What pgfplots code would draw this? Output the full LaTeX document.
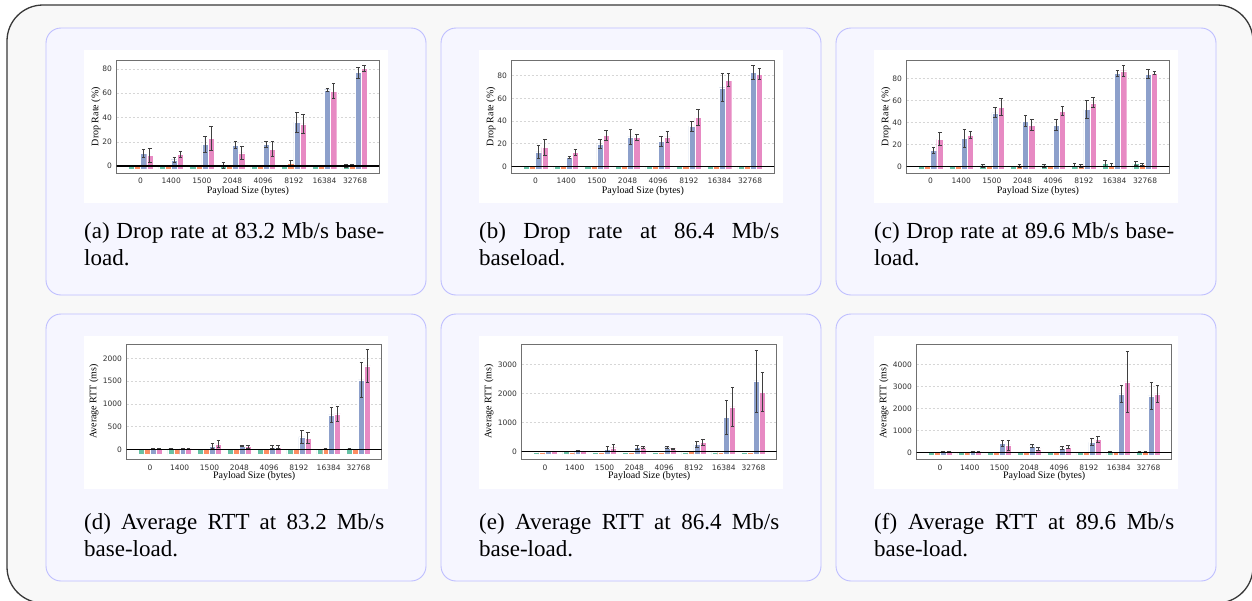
\documentclass[border=0pt]{standalone}
\usepackage{fontspec}
\setmainfont{Liberation Serif}
\setsansfont{DejaVu Sans}
\usepackage{pgfplots}
\usepackage{pgfplotstable}
\pgfplotsset{compat=1.18}

\definecolor{cg}{HTML}{66C2A5}
\definecolor{co}{HTML}{FC8D62}
\definecolor{cb}{HTML}{8DA0CB}
\definecolor{cp}{HTML}{E78AC3}
\definecolor{errc}{HTML}{3F3F3F}
\definecolor{framec}{HTML}{707070}
\definecolor{gridc}{HTML}{D6D6D6}
\definecolor{tickc}{HTML}{333333}
\definecolor{outerbg}{HTML}{F8F8F8}
\definecolor{outerc}{HTML}{383838}
\definecolor{panelbg}{HTML}{F6F6FF}
\definecolor{panelc}{HTML}{BEBEFF}

% columns: x, green mean/err, orange mean/err, blue mean/err, pink mean/err
\pgfplotstableread{
x gm ge om oe bm be pm pe
0 0 0 0 0 10.2 3.2 8.8 5.7
1 0 0 0 0 5.2 2.2 9.4 2.5
2 0 0 0 0 17.7 6.9 22.6 9.9
3 0.3 2.3 0 0 17.1 3.0 10.8 5.5
4 0 0 0 0 17.9 2.2 13.8 6.3
5 0 0 2.0 2.7 36.1 8.3 34.8 7.6
6 0 0 0 0 62.9 1.1 61.8 6.2
7 0.4 1.2 0.5 1.0 77.0 4.6 80.6 2.6
}\tabA
\pgfplotstableread{
x gm ge om oe bm be pm pe
0 0 0 0 0 12.7 5.6 16.5 7.2
1 0 0 0 0 7.7 1.2 12.1 2.7
2 0 0 0 0 19.8 3.6 27.5 4.5
3 0 0 0 0 26.0 6.5 25.4 2.4
4 0 0 0 0 22.1 4.3 26.0 4.5
5 0 0 0 0 35.4 4.3 43.1 7.1
6 0 0 0 0 69.4 12.5 76.2 5.6
7 0 0 0 0 83.0 6.0 81.2 4.9
}\tabB
\pgfplotstableread{
x gm ge om oe bm be pm pe
0 0 0 0 0 14.7 2.7 24.7 6.1
1 0 0 0 0 25.3 8.4 28.4 3.1
2 0.3 1.0 0 0 48.9 4.6 54.0 8.0
3 0 0 0.3 1.0 41.2 5.2 37.6 5.1
4 0.3 1.0 0 0 37.6 5.2 50.4 4.2
5 1.0 1.5 0.5 1.3 51.9 8.3 58.0 4.6
6 2.5 2.5 1.0 1.3 84.9 2.6 87.3 4.8
7 2.5 2.0 1.5 1.0 84.3 4.1 85.2 1.0
}\tabC
\pgfplotstableread{
x gm ge om oe bm be pm pe
0 0 0 0 0 15 5 15 5
1 10 5 0 0 15 5 10 5
2 0 0 0 0 73 60 117 85
3 0 0 0 0 73 15 59 35
4 0 0 0 0 44 30 44 30
5 0 0 0 0 271 135 242 120
6 0 0 10 10 755 155 777 157
7 10 5 0 0 1524 380 1832 362
}\tabD
\pgfplotstableread{
x gm ge om oe bm be pm pe
0 0 0 0 0 20 5 20 5
1 10 5 0 0 25 10 20 5
2 0 0 0 0 92 80 137 115
3 0 0 0 0 149 55 137 35
4 0 0 0 0 137 35 103 23
5 0 0 10 10 252 90 332 105
6 0 0 0 0 1191 585 1535 670
7 0 0 0 0 2428 1065 2050 680
}\tabE
\pgfplotstableread{
x gm ge om oe bm be pm pe
0 0 0 0 0 20 5 20 5
1 0 0 0 0 20 5 20 5
2 0 0 0 0 394 136 333 227
3 0 0 0 0 288 76 152 75
4 0 0 0 0 197 68 242 60
5 0 0 0 0 455 166 576 128
6 10 10 0 0 2652 400 3197 1380
7 20 10 10 10 2561 606 2652 380
}\tabF

\pgfplotsset{
  chart/.style={
    scale only axis,
    axis line style={draw=framec, line width=0.9pt},
    major tick length=0pt,
    xmin=-0.78, xmax=7.78,
    xtick={0,1,2,3,4,5,6,7},
    xticklabels={0,1400,1500,2048,4096,8192,16384,32768},
    scaled y ticks=false,
    ymajorgrids,
    grid style={draw=gridc, line width=0.5pt, dash pattern=on 2.5pt off 1.5pt},
    tick label style={font=\sffamily\fontsize{7.5}{9}\selectfont, text=tickc},
    yticklabel style={anchor=east, inner sep=0pt, xshift=-4.5pt},
    label style={font=\sffamily\fontsize{8.3}{10}\selectfont, text=tickc},
    xlabel={Payload Size (bytes)},
    every axis x label/.style={at={(axis description cs:0.5,0)}, anchor=center, yshift=-17.5pt},
    bar width=0.2,
    error bars/error bar style={draw=errc, line width=0.9pt},
    error bars/error mark options={draw=errc, line width=0.9pt, mark size=1.8pt, rotate=90},
  },
  rowone/.style={chart, width=262.3pt, height=113.3pt,
    xticklabel style={anchor=center, inner sep=0pt, yshift=-7.4pt},
    ylabel={Drop Rate (\%)},
    every axis y label/.style={at={(axis description cs:-0.079,0.5)}, rotate=90, anchor=center},
  },
  rowtwo/.style={chart, width=255pt, height=115pt,
    xticklabel style={anchor=center, inner sep=0pt, yshift=-8.7pt},
    ylabel={Average RTT (ms)},
    every axis y label/.style={at={(axis description cs:-0.128,0.5)}, rotate=90, anchor=center},
  },
}

\newcommand{\barset}[2]{%
  \addplot[ybar, bar shift=0, fill=cg, draw=white, line width=0.4pt, error bars/y dir=both, error bars/y explicit]
    table[x expr=\thisrow{x}-0.3, y expr=\thisrow{gm}+#2, y error=ge]{#1};
  \addplot[ybar, bar shift=0, fill=co, draw=white, line width=0.4pt, error bars/y dir=both, error bars/y explicit]
    table[x expr=\thisrow{x}-0.1, y expr=\thisrow{om}+#2, y error=oe]{#1};
  \addplot[ybar, bar shift=0, fill=cb, draw=white, line width=0.4pt, error bars/y dir=both, error bars/y explicit]
    table[x expr=\thisrow{x}+0.1, y expr=\thisrow{bm}+#2, y error=be]{#1};
  \addplot[ybar, bar shift=0, fill=cp, draw=white, line width=0.4pt, error bars/y dir=both, error bars/y explicit]
    table[x expr=\thisrow{x}+0.3, y expr=\thisrow{pm}+#2, y error=pe]{#1};
  \addplot[sharp plot, black, line width=1.3pt] coordinates {(-1,#2) (8,#2)};
}

\newcommand{\captext}[3]{%
  \node[anchor=north west, inner sep=0pt, text width=300pt, align=justify,
        font=\rmfamily\fontsize{23}{27}\selectfont] at (#1pt,-#2pt) {#3};
}

\begin{document}
\begin{tikzpicture}
\useasboundingbox (0pt,0pt) rectangle (1252pt,-600pt);
\draw[fill=outerbg, draw=outerc, line width=1.3pt, rounded corners=36pt] (7pt,-5pt) rectangle (1253pt,-603pt);
% panels
\foreach \L in {46,441,836}{
  \pgfmathsetmacro{\R}{\L+380}
  \pgfmathsetmacro{\WL}{\L+38}
  \pgfmathsetmacro{\WR}{\L+342}
  \draw[fill=panelbg, draw=panelc, line width=0.9pt, rounded corners=15pt] (\L pt,-28pt) rectangle (\R pt,-295pt);
  \draw[fill=panelbg, draw=panelc, line width=0.9pt, rounded corners=15pt] (\L pt,-314pt) rectangle (\R pt,-581pt);
  \fill[white] (\WL pt,-50pt) rectangle (\WR pt,-203pt);
  \fill[white] (\WL pt,-336pt) rectangle (\WR pt,-489pt);
}

% row one
\begin{axis}[rowone, at={(116.7pt,-173.3pt)}, anchor=south west,
  ymin=-3.5, ymax=89.9, ytick={2.5,22.5,42.5,62.5,82.5}, yticklabels={0,20,40,60,80}]
\barset{\tabA}{2.5}
\end{axis}
\begin{axis}[rowone, at={(511.7pt,-173.3pt)}, anchor=south west,
  ymin=-3.8, ymax=96.3, ytick={2.4,22.4,42.4,62.4,82.4}, yticklabels={0,20,40,60,80}]
\barset{\tabB}{2.4}
\end{axis}
\begin{axis}[rowone, at={(906.7pt,-173.3pt)}, anchor=south west,
  ymin=-4.0, ymax=99.5, ytick={2.4,22.4,42.4,62.4,82.4}, yticklabels={0,20,40,60,80}]
\barset{\tabC}{2.4}
\end{axis}

% row two
\begin{axis}[rowtwo, at={(126.7pt,-459pt)}, anchor=south west,
  ymin=-103, ymax=2424, ytick={110,610,1110,1610,2110}, yticklabels={0,500,1000,1500,2000}]
\barset{\tabD}{110}
\end{axis}
\begin{axis}[rowtwo, at={(521.7pt,-459pt)}, anchor=south west,
  ymin=-148, ymax=3801, ytick={103,1103,2103,3103}, yticklabels={0,1000,2000,3000}]
\barset{\tabE}{103}
\end{axis}
\begin{axis}[rowtwo, at={(916.7pt,-459pt)}, anchor=south west,
  ymin=-184, ymax=5044, ytick={121,1121,2121,3121,4121}, yticklabels={0,1000,2000,3000,4000}]
\barset{\tabF}{121}
\end{axis}

% captions
\captext{84}{222}{(a) Drop rate at 83.2 Mb/s base-\linebreak load.}
\captext{479}{222}{(b) Drop rate at 86.4 Mb/s\linebreak baseload.}
\captext{874}{222}{(c) Drop rate at 89.6 Mb/s base-\linebreak load.}
\captext{84}{513}{(d) Average RTT at 83.2 Mb/s\linebreak base-load.}
\captext{479}{513}{(e) Average RTT at 86.4 Mb/s\linebreak base-load.}
\captext{874}{513}{(f) Average RTT at 89.6 Mb/s\linebreak base-load.}
\end{tikzpicture}
\end{document}
